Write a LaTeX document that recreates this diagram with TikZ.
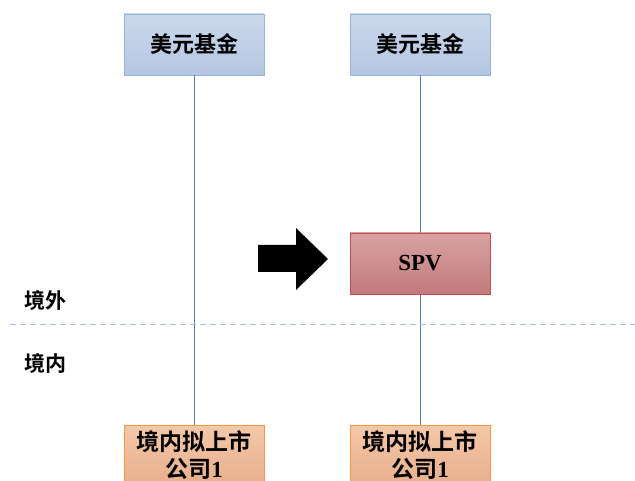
\documentclass[tikz,border=0pt]{standalone}
\usepackage{fontspec}
\setmainfont{Liberation Serif}
\newfontfamily\cjk{Noto Sans CJK SC}[BoldFont={Noto Sans CJK SC Bold}]
\definecolor{bluetop}{HTML}{CBD8EC}
\definecolor{bluebot}{HTML}{B4C6E1}
\definecolor{blueedge}{HTML}{95B3D7}
\definecolor{redtop}{HTML}{D9A2A2}
\definecolor{redbot}{HTML}{C27A7B}
\definecolor{rededge}{HTML}{C0504D}
\definecolor{orgtop}{HTML}{F4C8A8}
\definecolor{orgbot}{HTML}{E6AA88}
\definecolor{orgedge}{HTML}{F79646}
\definecolor{linkc}{HTML}{4F81BD}
\definecolor{dashc}{HTML}{A7BDDA}
\begin{document}
\begin{tikzpicture}[x=1pt,y=-1pt,
  fundbox/.style={draw=blueedge,line width=0.8pt,top color=bluetop,bottom color=bluebot,minimum width=140pt,minimum height=61pt,inner sep=0pt,font=\cjk\bfseries\fontsize{22}{26}\selectfont},
  spvbox/.style={draw=rededge,line width=0.8pt,top color=redtop,bottom color=redbot,minimum width=140pt,minimum height=61pt,inner sep=0pt,font=\bfseries\fontsize{23}{26}\selectfont},
  cobox/.style={draw=orgedge,line width=0.8pt,top color=orgtop,bottom color=orgbot,minimum width=140pt,minimum height=70pt,inner sep=0pt,anchor=north},
  cotext/.style={font=\cjk\bfseries\fontsize{23}{27}\selectfont,align=center,inner sep=0pt},
  link/.style={draw=linkc,line width=0.8pt},
  lbl/.style={font=\cjk\bfseries\fontsize{21}{22}\selectfont,anchor=west,inner sep=0pt}]
\useasboundingbox (0,0) rectangle (635,481);
\clip (0,0) rectangle (635,481);
\node[fundbox] (f1) at (194,44.5) {美元基金};
\node[fundbox] (f2) at (420,44.5) {美元基金};
\node[spvbox] (spv) at (420,263.5) {SPV};
\node[cobox] (c1) at (194,425) {};
\node[cobox] (c2) at (420,425) {};
\node[cotext] (t1) at (194,455) {境内拟上市\\公司{\rmfamily 1}};
\node[cotext] (t2) at (420,455) {境内拟上市\\公司{\rmfamily 1}};
\draw[link] (f1.south) -- (c1.north);
\draw[link] (f2.south) -- (spv.north);
\draw[link] (spv.south) -- (c2.north);
\coordinate (dl) at (10,325);
\coordinate (dr) at (635,325);
\draw[dashc,line width=1pt,dash pattern=on 6pt off 4pt] (dl) -- (dr);
\node[lbl] (out) at (24,300) {境外};
\node[lbl] (in) at (24,363) {境内};
\fill[black] (258,245) -- (296,245) -- (296,228) -- (328,259) -- (296,290) -- (296,272) -- (258,272) -- cycle;
\end{tikzpicture}
\end{document}
